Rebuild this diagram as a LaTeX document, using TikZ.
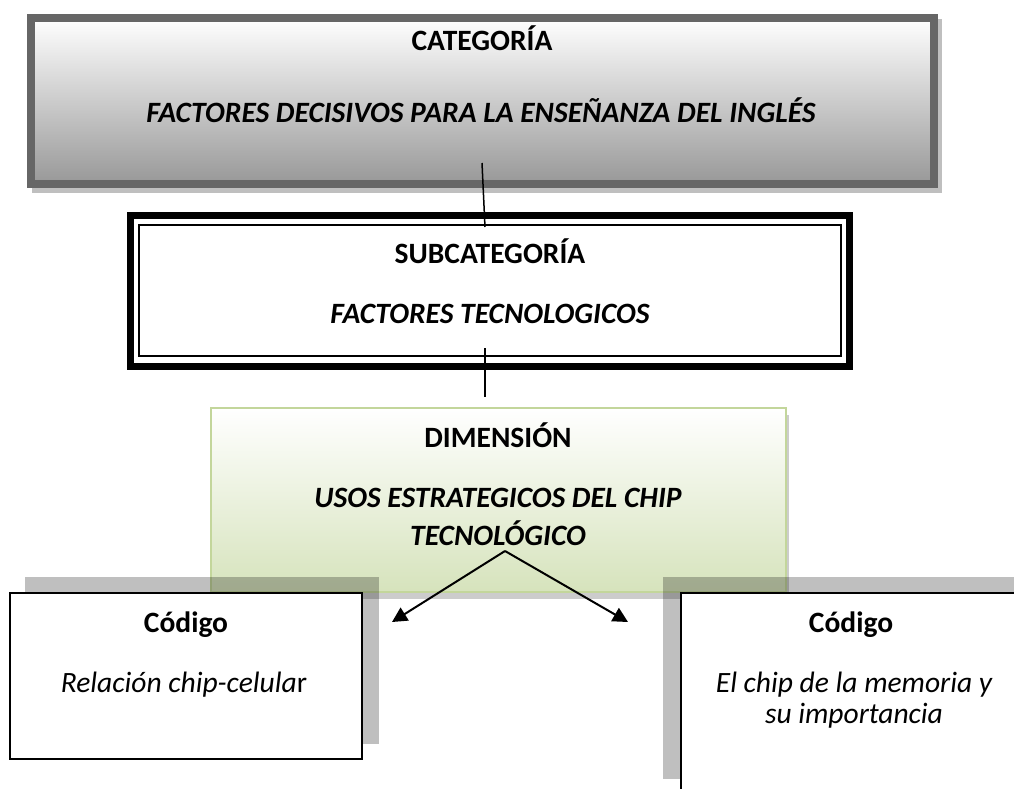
\documentclass[tikz,border=0pt]{standalone}
\usepackage{fontspec}
\setmainfont{Carlito}
\usetikzlibrary{arrows.meta}
\definecolor{verdeborde}{RGB}{195,214,155}
\definecolor{verdefondo}{RGB}{214,227,188}
\definecolor{grisborde}{RGB}{102,102,102}
\definecolor{grisfondo}{RGB}{152,152,152}
\definecolor{grissombra}{RGB}{191,191,191}
\begin{document}
\begin{tikzpicture}[x=1pt,y=-1pt,>={Triangle[length=15pt,width=15pt]}]
	\tikzset{titulo/.style={anchor=base,font=\fontsize{29.5}{35}\selectfont\bfseries},
		subtitulo/.style={anchor=base,font=\fontsize{29.5}{35}\selectfont\bfseries\itshape},
		texto/.style={anchor=base,font=\fontsize{29.5}{35}\selectfont\itshape},
		sombra/.style={fill=black,opacity=.25},
		codigo/.style={draw=black,line width=1.5pt,fill=white}
	}
	\useasboundingbox (0,0) rectangle (1014,788);
	\clip (0,0) rectangle (1014,788);
	% categoria
	\fill[grissombra] (32,19) rectangle (942,193);
	\draw[grisborde,line width=8pt,top color=white,bottom color=grisfondo] (31,18) rectangle (934,184);
	\node[titulo] (cat) at (482,50) {CATEGORÍA};
	\node[subtitulo] (catnombre) at (481,122) {FACTORES DECISIVOS PARA LA ENSEÑANZA DEL INGLÉS};
	% subcategoria
	\draw[line width=7pt] (130.5,215.5) rectangle (849.5,366.5);
	\draw[line width=2pt] (139,224.5) rectangle (841,356);
	\node[titulo] (subcat) at (490,263) {SUBCATEGORÍA};
	\node[subtitulo] (subnombre) at (490,323) {FACTORES TECNOLOGICOS};
	% dimension
	\fill[sombra,opacity=.2] (214,415) rectangle (789,599);
	\draw[verdeborde,line width=1.5pt,top color=white,bottom color=verdefondo] (211,408) rectangle (786,592);
	\node[titulo] (dim) at (498,447) {DIMENSIÓN};
	\node[subtitulo] (dimnombre) at (498,507) {USOS ESTRATEGICOS DEL CHIP};
	\node[subtitulo] (dimnombreb) at (498,545) {TECNOLÓGICO};
	% codigos
	\fill[sombra] (25,577) rectangle (379,744);
	\draw[codigo] (10,593) rectangle (362,759);
	\node[titulo] (codA) at (186,632) {Código};
	\node[anchor=base,font=\fontsize{29.5}{35}\selectfont] (codAtexto) at (184,692) {\textit{Relación chip-celula}r};
	\fill[sombra] (663,577) rectangle (1040,779);
	\draw[codigo] (681,593) rectangle (1040,800);
	\node[titulo] (codB) at (851,632) {Código};
	\node[texto] (codBtexto) at (854,692) {El chip de la memoria y};
	\node[texto] (codBtextob) at (854,723) {su importancia};
	% conectores
	\coordinate (catpie) at (482,163);
	\coordinate (subcabeza) at (485,227);
	\coordinate (subpie) at (485,348);
	\coordinate (dimcabeza) at (485,397);
	\coordinate (dimpie) at (505,551);
	\coordinate (flechaA) at (392,622);
	\coordinate (flechaB) at (628,622);
	\draw[line width=1.5pt] (catpie)--(subcabeza);
	\draw[line width=1.5pt] (subpie)--(dimcabeza);
	\draw[->,line width=2pt] (dimpie)--(flechaA);
	\draw[->,line width=2pt] (dimpie)--(flechaB);
\end{tikzpicture}
\end{document}
